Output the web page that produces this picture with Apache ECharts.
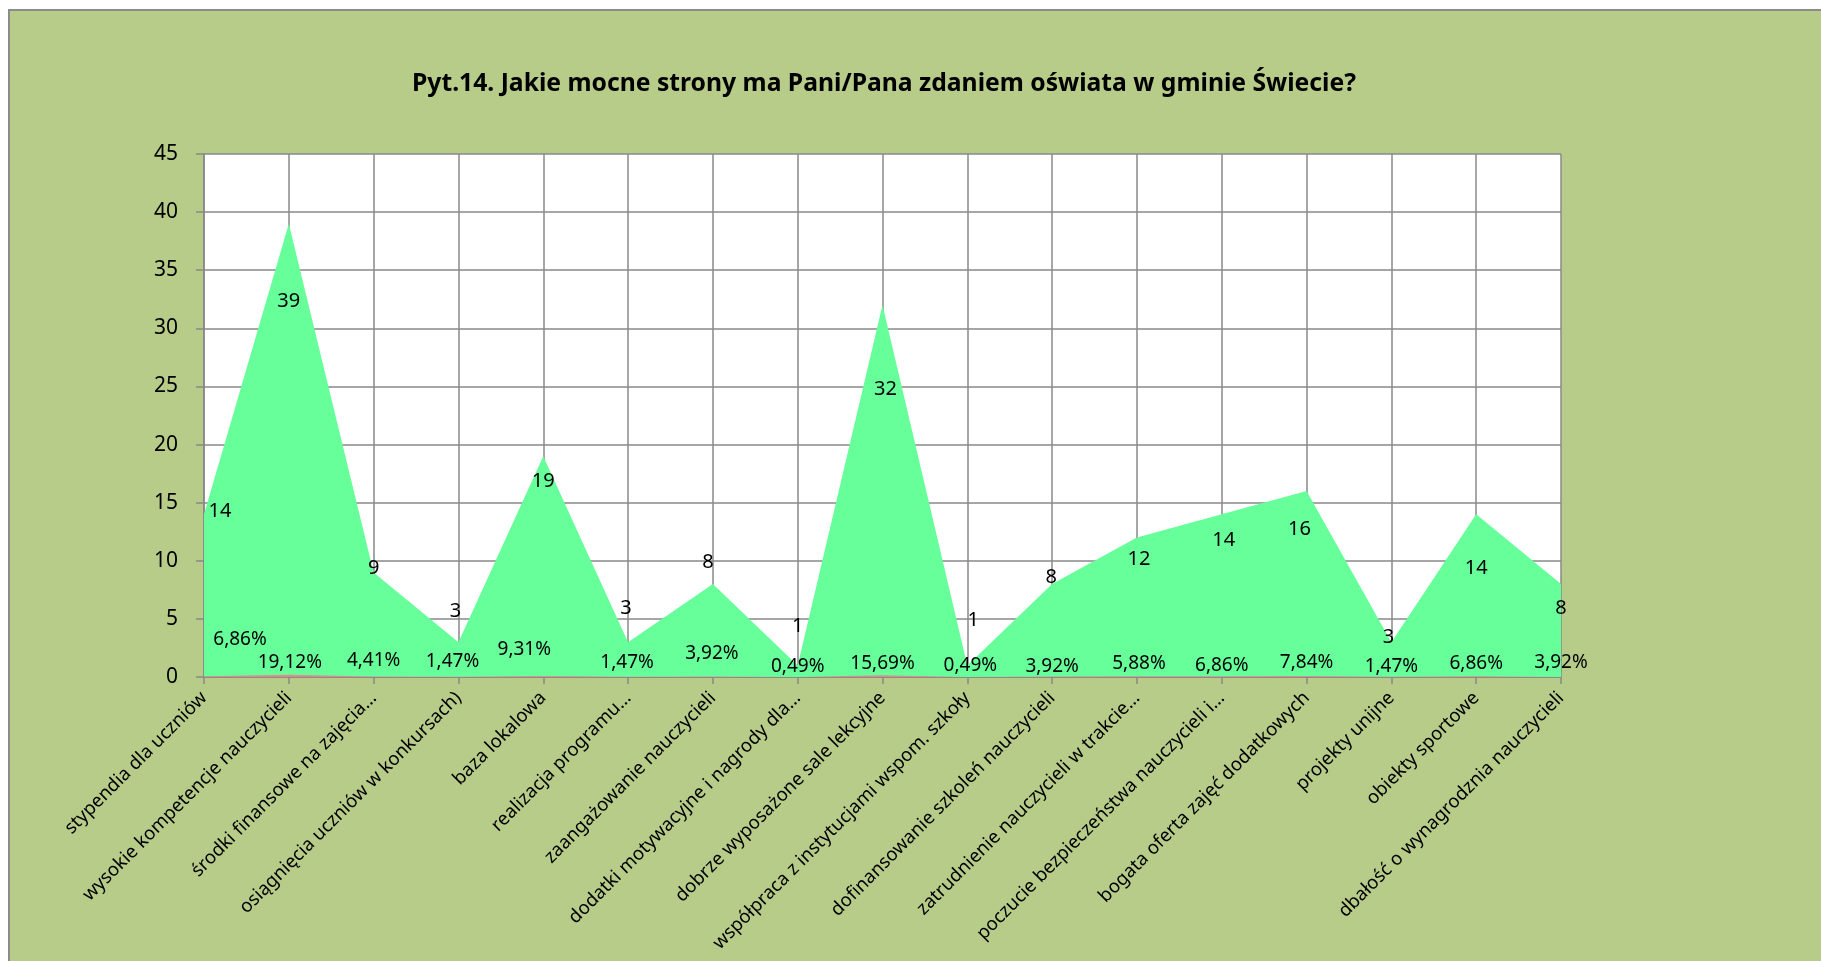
<!DOCTYPE html>
<html>
<head>
<meta charset="utf-8">
<script src="https://cdn.jsdelivr.net/npm/echarts@6/dist/echarts.min.js"></script>
<style>
  html, body { margin: 0; padding: 0; background: #ffffff; width: 1821px; height: 961px; overflow: hidden; }
  #frame { position: absolute; left: 8px; top: 9px; width: 1900px; height: 1000px; background: #b8cc8a; border-left: 2px solid #8c8c8c; border-top: 2px solid #8c8c8c; }
  #chart { position: absolute; left: 0; top: 0; width: 1821px; height: 961px; }
</style>
</head>
<body>
<div id="frame"></div>
<div id="chart"></div>
<script>
// ---- data ----
const titleText = 'Pyt.14. Jakie mocne strony ma Pani/Pana zdaniem oświata w gminie Świecie?';
const categories = [
  'stypendia dla uczniów',
  'wysokie kompetencje nauczycieli',
  'środki finansowe na zajęcia…',
  'osiągnięcia uczniów w konkursach)',
  'baza lokalowa',
  'realizacja programu…',
  'zaangażowanie nauczycieli',
  'dodatki motywacyjne i nagrody dla…',
  'dobrze wyposażone sale lekcyjne',
  'współpraca z instytucjami wspom. szkoły',
  'dofinansowanie szkoleń nauczycieli',
  'zatrudnienie nauczycieli w trakcie…',
  'poczucie bezpieczeństwa nauczycieli i…',
  'bogata oferta zajęć dodatkowych',
  'projekty unijne',
  'obiekty sportowe',
  'dbałość o wynagrodznia nauczycieli'
];
const counts = [14, 39, 9, 3, 19, 3, 8, 1, 32, 1, 8, 12, 14, 16, 3, 14, 8];
const percents = [6.86, 19.12, 4.41, 1.47, 9.31, 1.47, 3.92, 0.49, 15.69, 0.49, 3.92, 5.88, 6.86, 7.84, 1.47, 6.86, 3.92];
const yMin = 0, yMax = 45, yInterval = 5;

// ---- label placement (style only, pixels) ----
const countLabelOffsets = [
  [16, -3], [0, 78], [0, -4], [-3, -31], [0, 25], [-2, -34], [-5, -22], [0, -39], [3, 84],
  [6, -45], [-1, -7], [2, 22], [2, 26], [-7, 38], [-3, -5], [0, 54], [0, 24]
];
const percentLabelOffsets = [
  [36, -37], [1, -12], [0, -16], [-6, -15], [-19, -26], [-1, -14], [-1, -23], [0, -10], [0, -12],
  [3, -11], [0, -10], [2, -13], [0, -11], [0, -13], [0, -10], [0, -13], [0, -14]
];

const FONT = '"Noto Sans", "Open Sans", sans-serif';

const countData = counts.map((v, i) => ({
  value: v,
  label: { offset: countLabelOffsets[i] }
}));
const percentData = percents.map((p, i) => ({
  value: p / 100,
  label: { offset: percentLabelOffsets[i] }
}));

const chart = echarts.init(document.getElementById('chart'), null, { renderer: 'canvas' });
chart.setOption({
  animation: false,
  backgroundColor: 'transparent',
  title: {
    text: titleText,
    left: 884,
    top: 84,
    textAlign: 'center',
    textVerticalAlign: 'middle',
    padding: 0,
    textStyle: { fontFamily: FONT, fontWeight: 'bold', fontSize: 24.7, color: '#000000' }
  },
  grid: { left: 204, right: 260, top: 154, bottom: 284, containLabel: false, show: true, backgroundColor: '#ffffff', borderWidth: 0 },
  xAxis: {
    type: 'category',
    data: categories,
    boundaryGap: false,
    axisLine: { show: true, lineStyle: { color: '#888888', width: 1.5 } },
    axisTick: { show: true, inside: false, length: 7, lineStyle: { color: '#888888', width: 1.5 } },
    splitLine: { show: true, lineStyle: { color: '#888888', width: 1.5 } },
    axisLabel: { rotate: 45, interval: 0, margin: 18, fontFamily: FONT, fontSize: 18.6, color: '#000000' }
  },
  yAxis: {
    type: 'value',
    min: yMin, max: yMax, interval: yInterval,
    axisLine: { show: true, lineStyle: { color: '#888888', width: 1.5 } },
    axisTick: { show: true, inside: false, length: 8, lineStyle: { color: '#888888', width: 1.5 } },
    splitLine: { show: true, lineStyle: { color: '#888888', width: 1.5 } },
    axisLabel: { margin: 26, fontFamily: FONT, fontSize: 21, color: '#000000' }
  },
  series: [
    {
      name: 'liczba',
      type: 'line',
      data: countData,
      symbol: 'circle',
      symbolSize: 0,
      showSymbol: true,
      lineStyle: { width: 0, opacity: 0 },
      itemStyle: { color: '#66ff99' },
      areaStyle: { color: '#66ff99', opacity: 1 },
      label: { show: true, position: 'inside', fontFamily: FONT, fontSize: 20, color: '#000000' },
      z: 2
    },
    {
      name: 'procent',
      type: 'line',
      data: percentData,
      symbol: 'circle',
      symbolSize: 0,
      showSymbol: true,
      lineStyle: { width: 0, opacity: 0 },
      itemStyle: { color: '#e08a8a' },
      areaStyle: { color: '#e08a8a', opacity: 1 },
      label: {
        show: true, position: 'inside', fontFamily: FONT, fontSize: 19, color: '#000000',
        formatter: (p) => percents[p.dataIndex].toFixed(2).replace('.', ',') + '%'
      },
      z: 3
    }
  ]
});
</script>
</body>
</html>
